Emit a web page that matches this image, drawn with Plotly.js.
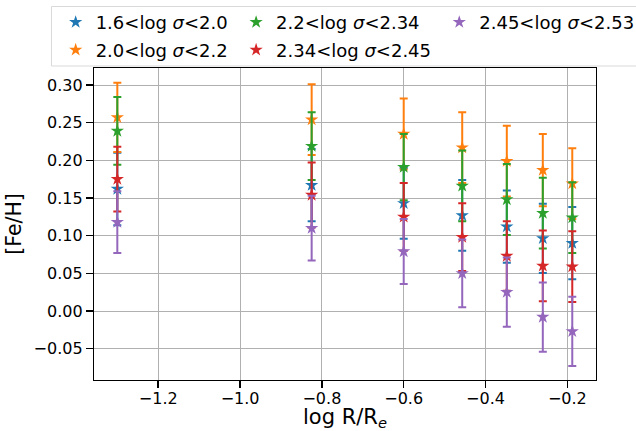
<!DOCTYPE html>
<html>
<head>
<meta charset="utf-8">
<script src="https://cdn.plot.ly/plotly-3.0.1.min.js"></script>
<style>html,body{margin:0;padding:0;background:#fff;overflow:hidden;}#chart{width:636px;height:431px;overflow:hidden;}</style>
</head>
<body>
<div id="chart"></div>
<script>
// log R/Re bins
const logR = [-1.30, -0.825, -0.60, -0.457, -0.348, -0.26, -0.188];

const seriesNames = [
  "1.6<log <i>σ</i><2.0",
  "2.0<log <i>σ</i><2.2",
  "2.2<log <i>σ</i><2.34",
  "2.34<log <i>σ</i><2.45",
  "2.45<log <i>σ</i><2.53"
];

const feh_s1 = [0.162, 0.167, 0.143, 0.127, 0.112, 0.0965, 0.090];
const err_s1 = [0.048, 0.048, 0.047, 0.047, 0.048, 0.046, 0.048];

const feh_s2 = [0.257, 0.254, 0.235, 0.217, 0.199, 0.187, 0.169];
const err_s2 = [0.046, 0.047, 0.047, 0.047, 0.047, 0.048, 0.047];

const feh_s3 = [0.239, 0.219, 0.191, 0.166, 0.148, 0.130, 0.124];
const err_s3 = [0.045, 0.045, 0.044, 0.047, 0.047, 0.047, 0.047];

const feh_s4 = [0.175, 0.154, 0.125, 0.098, 0.073, 0.060, 0.059];
const err_s4 = [0.043, 0.043, 0.045, 0.045, 0.046, 0.047, 0.047];

const feh_s5 = [0.118, 0.110, 0.079, 0.050, 0.025, -0.008, -0.027];
const err_s5 = [0.041, 0.043, 0.043, 0.045, 0.046, 0.046, 0.046];

const xTicks = [-1.2, -1.0, -0.8, -0.6, -0.4, -0.2];
const yTicks = [-0.05, 0.00, 0.05, 0.10, 0.15, 0.20, 0.25, 0.30];

const colors = ["#1f77b4", "#ff7f0e", "#2ca02c", "#d62728", "#9467bd"];
const values = [feh_s1, feh_s2, feh_s3, feh_s4, feh_s5];
const errors = [err_s1, err_s2, err_s3, err_s4, err_s5];
const legendIds = ["legend", "legend2", "legend3", "legend4", "legend5"];

const traces = values.map((v, i) => ({
  type: "scatter",
  mode: "markers",
  x: logR,
  y: v,
  name: seriesNames[i],
  legend: legendIds[i],
  marker: {symbol: "star", size: 10, color: colors[i], line: {width: 0}},
  error_y: {type: "data", array: errors[i], visible: true, color: colors[i], thickness: 2, width: 4}
}));

// plot area in px: x 94..595.6, y 68..380
const L = 94, R = 595.6, T = 68, B = 380;
const px2x = p => (p - L) / (R - L);
const px2y = p => (B - p) / (B - T);

function leg(xpx, ypx) {
  return {x: px2x(xpx), y: px2y(ypx), xanchor: "left", yanchor: "middle",
    bgcolor: "rgba(0,0,0,0)", borderwidth: 0,
    font: {family: "DejaVu Sans", size: 18, color: "#000"}};
}

const bx0 = px2x(51.5), bx1 = px2x(636), by0 = px2y(66), by1 = px2y(6.5);

const layout = {
  width: 636, height: 431,
  margin: {l: L, r: 636 - R, t: T, b: 431 - B, pad: 0, autoexpand: false},
  paper_bgcolor: "#fff", plot_bgcolor: "#fff",
  font: {family: "DejaVu Sans", color: "#000"},
  showlegend: true,
  legend: leg(55.7, 22.5),
  legend2: leg(55.7, 50.1),
  legend3: leg(236, 22.5),
  legend4: leg(236, 50.1),
  legend5: leg(439, 22.5),
  shapes: [{
    type: "path", xref: "paper", yref: "paper",
    path: `M ${bx1},${by1} L ${bx0},${by1} L ${bx0},${by0} L ${bx1},${by0}`,
    line: {color: "#d9d9d9", width: 1}, layer: "above"
  }],
  xaxis: {
    range: [-1.357, -0.130],
    tickvals: xTicks, tickformat: ".1f",
    ticks: "outside", ticklen: 7, tickwidth: 1.5, tickcolor: "#000",
    ticklabelstandoff: -3,
    showline: true, linecolor: "#000", linewidth: 1.2, mirror: true,
    showgrid: true, gridcolor: "#b0b0b0", gridwidth: 1, zeroline: false,
    tickfont: {family: "DejaVu Sans", size: 16, color: "#000"},
    title: {text: "log R/R<sub><i>e</i></sub>", font: {family: "DejaVu Sans", size: 21, color: "#000"}, standoff: 0},
    automargin: false
  },
  yaxis: {
    range: [-0.0916, 0.3226],
    tickvals: yTicks, tickformat: ".2f",
    ticks: "outside", ticklen: 7, tickwidth: 1.5, tickcolor: "#000",
    showline: true, linecolor: "#000", linewidth: 1.2, mirror: true,
    showgrid: true, gridcolor: "#b0b0b0", gridwidth: 1, zeroline: false,
    tickfont: {family: "DejaVu Sans", size: 16, color: "#000"},
    title: {text: "[Fe/H]", font: {family: "DejaVu Sans", size: 20.5, color: "#000"}, standoff: 6},
    automargin: false
  }
};

Plotly.newPlot("chart", traces, layout, {displayModeBar: false, staticPlot: true});
</script>
</body>
</html>
